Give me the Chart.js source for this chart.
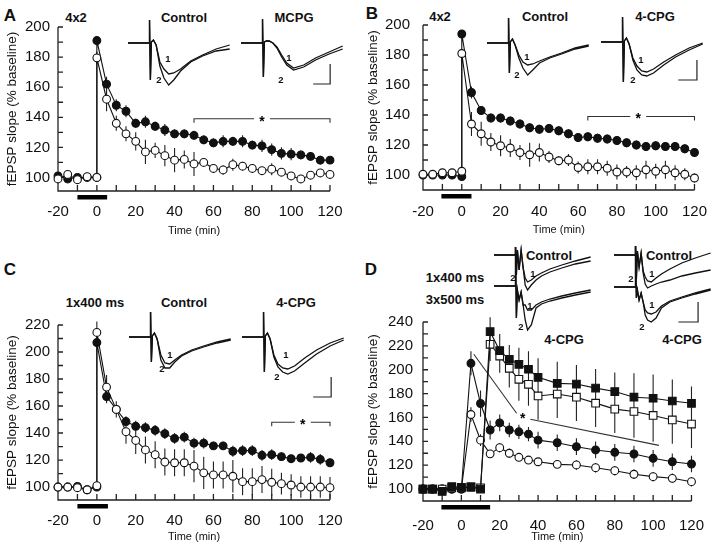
<!DOCTYPE html>
<html>
<head>
<meta charset="utf-8">
<script src="https://cdn.jsdelivr.net/npm/chart.js@4.4.1/dist/chart.umd.min.js"></script>
<style>
    body { margin: 0; width: 720px; height: 550px; background: #fff; position: relative; overflow: hidden;
           font-family: "Liberation Sans", Arial, sans-serif; }
    canvas { position: absolute; }
    .t { position: absolute; transform: translate(-50%, -50%); font-weight: bold; color: #111;
         white-space: nowrap; line-height: 1; }
    .p { font-size: 17px; }
    .h { font-size: 13px; }
    .n { font-size: 9.5px; }
</style>
</head>
<body>

<div class="t p" style="left:10px;top:15px">A</div>
<div class="t p" style="left:372px;top:13px">B</div>
<div class="t p" style="left:10px;top:269px">C</div>
<div class="t p" style="left:371px;top:269px">D</div>

<div class="t h" style="left:76px;top:17px">4x2</div>
<div class="t h" style="left:184px;top:17px">Control</div>
<div class="t h" style="left:294px;top:17px">MCPG</div>
<div class="t h" style="left:440px;top:16px">4x2</div>
<div class="t h" style="left:545px;top:16px">Control</div>
<div class="t h" style="left:655px;top:16px">4-CPG</div>
<div class="t h" style="left:95px;top:302px">1x400 ms</div>
<div class="t h" style="left:184px;top:302px">Control</div>
<div class="t h" style="left:296px;top:302px">4-CPG</div>
<div class="t h" style="left:455px;top:277px">1x400 ms</div>
<div class="t h" style="left:455px;top:299px">3x500 ms</div>
<div class="t h" style="left:549px;top:255px">Control</div>
<div class="t h" style="left:669px;top:255px">Control</div>
<div class="t h" style="left:564px;top:339px">4-CPG</div>
<div class="t h" style="left:682px;top:339px">4-CPG</div>

<script>
// ---------- main series ----------
const X_LABELS = [-20, 0, 20, 40, 60, 80, 100, 120];
const Y_LABELS_AB = [100, 120, 140, 160, 180, 200];
const Y_LABELS_C = [100, 120, 140, 160, 180, 200, 220];
const Y_LABELS_D = [100, 120, 140, 160, 180, 200, 220, 240];

// time (min); 0 appears twice: before and right after the tetanus
const timeABC = [-20, -15, -10, -5, 0, 0, 5, 10, 15, 20, 25, 30, 35, 40, 45, 50, 55, 60, 65, 70, 75, 80, 85, 90, 95, 100, 105, 110, 115, 120];

const aFilled = [101, 99, 100, 100, 100, 191, 162, 148, 144, 136, 137, 134, 131.5, 129, 129, 128, 125, 123, 124, 124, 124, 121.5, 121, 118.5, 116, 115.5, 115, 114, 111.5, 111.5];
const aFilledErr = [1, 1, 1, 1, 1, 2, 5, 4, 4, 3, 4, 3, 4, 3, 3, 3, 3, 3, 4, 3, 4, 3, 4, 4, 4, 4, 3, 3, 3, 2];
const aOpen = [99, 102, 98.5, 100.5, 100, 179.5, 152, 136, 129, 124, 117, 118, 114.5, 111.5, 112, 109, 110, 106, 105, 108.5, 107.5, 106, 104.5, 105.5, 103.5, 101, 99, 101.5, 103, 102];
const aOpenErr = [1, 2, 1, 1, 1, 4, 8, 5, 5, 6, 8, 5, 7, 8, 6, 8, 3, 3, 3, 4, 3, 2, 2, 4, 2, 2, 2, 2, 2, 2];

const bFilled = [100, 100, 100, 100, 99, 194, 155, 143, 138, 138, 136, 134, 131.5, 130.5, 131, 129.5, 127.5, 125, 125.5, 124.5, 124, 123, 121.5, 120, 119, 119.5, 119, 119, 117.5, 115];
const bFilledErr = [1, 1, 1, 1, 1, 2, 4, 3, 3, 3, 3, 3, 3, 3, 3, 3, 3, 3, 3, 3, 3, 3, 3, 3, 3, 3, 3, 3, 3, 3];
const bOpen = [100.5, 100.5, 101.5, 101.5, 102.5, 181, 134, 127.5, 122, 119.5, 118, 115, 113.5, 115, 112, 109.5, 110, 105, 105.5, 105.5, 104.5, 102, 102, 101.5, 103.5, 102.5, 103.5, 101.5, 100.5, 98];
const bOpenErr = [1, 1, 1, 1, 1, 3, 8, 8, 6, 7, 6, 5, 8, 6, 4, 3, 4, 4, 5, 5, 5, 5, 4, 5, 6, 5, 6, 5, 4, 3];

const cFilled = [100, 100, 100.5, 98, 100, 207, 167, 157.5, 148.5, 145, 144, 142, 139.5, 136, 137, 132.5, 132.5, 130.5, 130.5, 126.5, 127, 127, 123.5, 124, 122.5, 121, 121.5, 122, 120.5, 118];
const cFilledErr = [1, 1, 1, 1, 1, 3, 5, 4, 4, 4, 4, 4, 4, 4, 4, 4, 4, 3, 3, 4, 4, 4, 4, 4, 3, 3, 3, 4, 4, 3];
const cOpen = [100, 100, 99.5, 98, 101, 214.5, 174, 157.5, 141, 134.5, 127.5, 124, 118.5, 118, 118, 115.5, 110.5, 109, 109, 108, 104, 104, 105.5, 103.5, 102.5, 101.5, 100, 100, 100, 99.5];
const cOpenErr = [1, 1, 1, 1, 1, 8, 9, 6, 9, 10, 10, 10, 10, 10, 10, 12, 12, 10, 10, 12, 10, 10, 10, 10, 8, 8, 8, 8, 8, 8];

const timeD = [-20, -15, -10, -5, 0, 5, 10, 15, 20, 25, 30, 35, 40, 50, 60, 70, 80, 90, 100, 110, 120];
const dCircFilled = [100, 100, 100, 100, 100, 205.4, 171.7, 149.5, 155.5, 149.5, 148, 146, 141, 138.8, 135.5, 132.8, 130.8, 129.4, 125.8, 122.9, 121];
const dCircFilledErr = [1, 1, 1, 1, 1, 10, 11, 8, 7, 6, 6, 6, 7, 7, 7, 7, 7, 7, 7, 7, 7];
const dCircOpen = [100, 100, 100, 100, 100, 162.5, 141, 129.5, 134.7, 130, 126.6, 124.3, 122.9, 120.7, 120.2, 117.9, 115.4, 112.4, 110.4, 109, 106.2];
const dCircOpenErr = [1, 1, 1, 1, 1, 6, 5, 3, 4, 4, 3, 3, 3, 3, 4, 4, 4, 4, 4, 4, 4];
const dSqFilled = [100, 100, 98, 102, 101.5, 101.5, 100, 231.9, 216, 208.7, 204.5, 200.4, 193.6, 188.6, 188, 184.6, 181.7, 177, 176.1, 173.8, 171.9];
const dSqFilledErr = [2, 2, 2, 2, 2, 2, 2, 12, 14, 12, 14, 15, 16, 18, 16, 16, 16, 20, 20, 18, 14];
const dSqOpen = [100, 100, 100, 101, 101, 102, 101, 221.3, 211.5, 201.2, 192, 187.8, 178, 179.6, 177, 172, 167, 165, 161.7, 157.9, 154.5];
const dSqOpenErr = [2, 2, 2, 2, 2, 2, 2, 14, 14, 16, 18, 18, 20, 20, 20, 20, 20, 22, 22, 20, 20];

// stimulation bars and significance marks (min / % baseline)
const stimA = [-10, 5.3];
const stimB = [-10.5, 5];
const stimC = [-10, 5.7];
const stimD = [-10.4, 15];
const sigA = { from: 50, to: 120, y: 139, star: 85 };
const sigB = { from: 65, to: 120, y: 139, star: 91 };
const sigC = { from: 90, to: 120, y: 148, star: 106 };
const sigLinesD = [[6.5, 213, 28.8, 163.5], [36, 158.5, 103, 136.6]];
const sigStarD = [32, 161];

// ---------- inset traces (ms, mV) ----------
const traceT = [0, 6.2, 6.35, 6.6, 6.9, 7.5, 8.3, 9.4, 10.6, 12.0, 13.5, 15.5, 18.5, 22, 26, 30];
const aCtl1 = [0, 0, 1.15, -1.85, 0.05, 0.15, -0.1, -0.95, -1.3, -1.55, -1.5, -1.3, -0.9, -0.6, -0.3, -0.1];
const aCtl2 = [0, 0, 1.15, -1.85, 0.05, 0.15, -0.1, -1.15, -1.75, -2.1, -1.85, -1.4, -0.95, -0.65, -0.4, -0.3];
const aMc1 = [0, 0, 1.2, -1.7, 0.05, 0.1, 0.1, 0.0, -0.2, -0.6, -1.0, -1.25, -1.1, -0.75, -0.45, -0.15];
const aMc2 = [0, 0, 1.2, -1.7, 0.05, 0.1, 0.1, 0.0, -0.25, -0.7, -1.1, -1.35, -1.2, -0.85, -0.55, -0.3];
const bCtl1 = [0, 0, 1.4, -1.5, 0.05, 0.2, -0.1, -0.6, -0.95, -1.1, -1.05, -0.9, -0.7, -0.5, -0.25, -0.1];
const bCtl2 = [0, 0, 1.4, -1.5, 0.05, 0.2, -0.1, -0.75, -1.25, -1.6, -1.35, -1.0, -0.75, -0.55, -0.3, -0.15];
const bCpg1 = [0, 0, 1.35, -2.0, 0.05, 0.2, -0.1, -0.8, -1.2, -1.45, -1.5, -1.35, -1.0, -0.65, -0.3, -0.05];
const bCpg2 = [0, 0, 1.35, -2.0, 0.05, 0.2, -0.1, -0.9, -1.4, -1.65, -1.7, -1.55, -1.15, -0.75, -0.4, -0.1];
const cCtl1 = [0, 0, 1.45, -1.25, 0.05, 0.2, -0.1, -0.9, -1.3, -1.35, -1.15, -0.9, -0.65, -0.45, -0.25, -0.1];
const cCtl2 = [0, 0, 1.45, -1.25, 0.05, 0.2, -0.1, -1.15, -1.55, -1.55, -1.25, -0.95, -0.7, -0.5, -0.3, -0.15];
const cCpg1 = [0, 0, 1.35, -1.75, 0.05, 0.2, -0.1, -0.9, -1.35, -1.55, -1.6, -1.45, -1.05, -0.65, -0.3, -0.05];
const cCpg2 = [0, 0, 1.35, -1.75, 0.05, 0.2, -0.1, -1.0, -1.5, -1.75, -1.85, -1.7, -1.3, -0.85, -0.45, -0.15];

const traceTD = [0, 6.2, 6.35, 6.6, 6.9, 7.4, 8.0, 8.6, 9.2, 9.9, 11.0, 12.4, 14.0, 16.5, 20, 24, 28.5];
const dLTop1 = [0, 0, 0.4, -1.0, 0.25, -0.75, 0.25, -0.65, -1.15, -1.35, -1.25, -1.05, -0.9, -0.7, -0.5, -0.3, -0.1];
const dLTop2 = [0, 0, 0.4, -1.0, 0.25, -0.75, 0.25, -0.65, -1.5, -1.75, -1.5, -1.25, -1.05, -0.85, -0.65, -0.45, -0.3];
const dLBot1 = [-1.55, -1.55, 0.4, -3.15, -1.75, -2.25, -1.85, -2.5, -2.5, -2.75, -2.75, -2.5, -2.35, -2.2, -2.05, -1.9, -1.75];
const dLBot2 = [-1.55, -1.55, 0.4, -3.15, -1.75, -2.25, -1.85, -2.5, -3.25, -3.75, -3.5, -2.65, -2.45, -2.3, -2.15, -2.0, -1.85];
const dRTop1 = [0, 0, 0.45, -1.2, 0.2, -0.6, 0.1, -0.8, -1.1, -1.3, -1.35, -1.15, -0.95, -0.7, -0.4, -0.15, 0.1];
const dRTop2 = [0, 0, 0.45, -1.2, 0.2, -0.6, 0.1, -0.9, -1.45, -1.65, -1.55, -1.45, -1.35, -1.25, -1.05, -0.9, -0.75];
const dRBot1 = [-1.6, -1.6, 0.45, -2.15, -1.75, -2.25, -1.9, -2.35, -2.75, -2.9, -2.95, -2.85, -2.55, -2.3, -2.1, -1.9, -1.7];
const dRBot2 = [-1.6, -1.6, 0.45, -2.15, -1.75, -2.25, -1.9, -2.35, -3.0, -3.25, -3.35, -3.15, -2.65, -2.35, -2.15, -1.95, -1.75];

// scale bars: corner at (x ms, y mV), w ms wide, h mV tall
const sbA = { x: 26.3, y: -2.05, w: 5, h: 1 };
const sbB = { x: 28.3, y: -1.9, w: 5.5, h: 1 };
const sbC = { x: 26.3, y: -3.0, w: 5.3, h: 1 };
const sbD = { x: 24.8, y: -3.35, w: 5.8, h: 1 };

Chart.defaults.font.family = '"Liberation Sans", Arial, sans-serif';
Chart.defaults.color = '#111';

// --- axes, error bars, stimulus bar, significance marks ---
const deco = {
    id: 'deco',
    beforeDatasetsDraw(chart, args, o) {
        const { ctx, chartArea: a, scales: { x, y } } = chart;
        const ys = o.yLabels;
        ctx.save();
        ctx.strokeStyle = '#222';
        ctx.lineWidth = 1.3;
        ctx.beginPath();
        ctx.moveTo(a.left, y.getPixelForValue(ys[ys.length - 1]));
        ctx.lineTo(a.left, a.bottom);
        ctx.lineTo(a.right, a.bottom);
        const yStep = (ys[1] - ys[0]) / 2;
        for (let v = ys[0]; v <= ys[ys.length - 1]; v += yStep) {
            const py = y.getPixelForValue(v);
            ctx.moveTo(a.left, py);
            ctx.lineTo(a.left + 5, py);
        }
        const xStep = (X_LABELS[1] - X_LABELS[0]) / 2;
        for (let v = X_LABELS[0] + xStep; v <= X_LABELS[X_LABELS.length - 1]; v += xStep) {
            const px = x.getPixelForValue(v);
            ctx.moveTo(px, a.bottom);
            ctx.lineTo(px, a.bottom - 6);
        }
        ctx.stroke();

        // error bars
        ctx.lineWidth = 1.1;
        ctx.strokeStyle = '#222';
        ctx.beginPath();
        chart.data.datasets.forEach((ds, i) => {
            if (!ds.err) return;
            chart.getDatasetMeta(i).data.forEach((pt, j) => {
                const d = ds.data[j];
                ctx.moveTo(pt.x, y.getPixelForValue(d.y + ds.err[j]));
                ctx.lineTo(pt.x, y.getPixelForValue(d.y - ds.err[j]));
            });
        });
        ctx.stroke();

        // stimulation bar
        ctx.fillStyle = '#000';
        const s0 = x.getPixelForValue(o.stim[0]);
        ctx.fillRect(s0, a.bottom + 4, x.getPixelForValue(o.stim[1]) - s0, 4.5);

        // significance
        ctx.strokeStyle = '#333';
        ctx.lineWidth = 1.1;
        ctx.font = 'bold 14px "Liberation Sans", Arial';
        ctx.textAlign = 'center';
        ctx.textBaseline = 'middle';
        if (o.sig) {
            const s = o.sig;
            const py = y.getPixelForValue(s.y);
            const x0 = x.getPixelForValue(s.from), x1 = x.getPixelForValue(s.to), xs = x.getPixelForValue(s.star);
            ctx.beginPath();
            ctx.moveTo(x0, py + 4); ctx.lineTo(x0, py); ctx.lineTo(xs - 8, py);
            ctx.moveTo(xs + 8, py); ctx.lineTo(x1, py); ctx.lineTo(x1, py + 4);
            ctx.stroke();
            ctx.fillText('*', xs, py + 3);
        }
        if (o.lines) {
            ctx.beginPath();
            o.lines.forEach(l => {
                ctx.moveTo(x.getPixelForValue(l[0]), y.getPixelForValue(l[1]));
                ctx.lineTo(x.getPixelForValue(l[2]), y.getPixelForValue(l[3]));
            });
            ctx.stroke();
            ctx.fillText('*', x.getPixelForValue(o.star[0]), y.getPixelForValue(o.star[1]) + 3);
        }
        ctx.restore();
    }
};

function addCanvas(left, top, w, h) {
    const c = document.createElement('canvas');
    c.width = w;
    c.height = h;
    c.style.left = left + 'px';
    c.style.top = top + 'px';
    document.body.appendChild(c);
    return c;
}

function series(t, vals, err, filled, square) {
    return {
        data: t.map((v, i) => ({ x: v, y: vals[i] })),
        err: err,
        borderColor: '#111',
        borderWidth: 1.1,
        pointStyle: square ? 'rect' : 'circle',
        pointRadius: square ? 5.4 : 3.9,
        pointBackgroundColor: filled ? '#111' : '#fff',
        pointBorderColor: '#111',
        pointBorderWidth: 1.1,
        tension: 0,
        clip: false
    };
}

function makePanel(p) {
    const canvas = addCanvas(p.left, p.top, 360, 275);
    new Chart(canvas, {
        type: 'line',
        data: { datasets: p.datasets },
        options: {
            responsive: false,
            animation: false,
            events: [],
            layout: { padding: p.pad },
            plugins: {
                legend: { display: false },
                tooltip: { enabled: false },
                deco: { yLabels: p.yLabels, stim: p.stim, sig: p.sig, lines: p.lines, star: p.star }
            },
            scales: {
                x: {
                    type: 'linear', min: -20, max: 120,
                    afterFit: s => { s.height = p.xH; },
                    afterBuildTicks: s => { s.ticks = X_LABELS.map(v => ({ value: v })); },
                    ticks: { font: { size: 15 }, padding: p.xPad, maxRotation: 0, autoSkip: false },
                    grid: { display: false, drawTicks: false },
                    border: { display: false },
                    title: { display: true, text: 'Time (min)', font: { size: 11 }, padding: 0 }
                },
                y: {
                    min: p.yMin, max: p.yMax,
                    afterFit: s => { s.width = p.yW; },
                    afterBuildTicks: s => { s.ticks = p.yLabels.map(v => ({ value: v })); },
                    ticks: { font: { size: 15 }, padding: p.yPad },
                    grid: { display: false, drawTicks: false },
                    border: { display: false },
                    title: { display: true, text: 'fEPSP slope (% baseline)', font: { size: 13.5 },
                             padding: { top: p.yTitlePad, bottom: 0 } }
                }
            }
        },
        plugins: [deco]
    });
}

const PX_PER_MS = 3.39, PX_PER_MV = 20;

function makeInset(left, baseline, tall, t, traces, sb) {
    const w = 110, h = tall ? 100 : 90, above = tall ? 12 : 25;
    const canvas = addCanvas(left, baseline - above, w, h);
    const datasets = traces.map(tr => ({
        data: t.map((v, i) => ({ x: v, y: tr[i] })),
        borderColor: '#111', borderWidth: 1.3, pointRadius: 0, tension: 0, clip: false
    }));
    if (sb) {
        datasets.push({
            data: [{ x: sb.x - sb.w, y: sb.y }, { x: sb.x, y: sb.y }, { x: sb.x, y: sb.y + sb.h }],
            borderColor: '#222', borderWidth: 1.2, pointRadius: 0, tension: 0, clip: false
        });
    }
    new Chart(canvas, {
        type: 'line',
        data: { datasets },
        options: {
            responsive: false, animation: false, events: [],
            layout: { padding: 0 },
            plugins: { legend: { display: false }, tooltip: { enabled: false } },
            scales: {
                x: { type: 'linear', display: false, min: 0, max: w / PX_PER_MS },
                y: { display: false, min: (above - h) / PX_PER_MV, max: above / PX_PER_MV }
            }
        }
    });
}

// panels
makePanel({
    left: 0, top: 0, yMin: 91, yMax: 200, yLabels: Y_LABELS_AB,
    pad: { left: 0, right: 30, top: 27, bottom: 37 }, yW: 58, xH: 47, xPad: 12, yPad: 8, yTitlePad: 4,
    stim: stimA, sig: sigA,
    datasets: [series(timeABC, aOpen, aOpenErr, false), series(timeABC, aFilled, aFilledErr, true)]
});
makePanel({
    left: 360, top: 0, yMin: 90, yMax: 200, yLabels: Y_LABELS_AB,
    pad: { left: 0, right: 23, top: 25, bottom: 38 }, yW: 63, xH: 47, xPad: 13, yPad: 13, yTitlePad: 5,
    stim: stimB, sig: sigB,
    datasets: [series(timeABC, bOpen, bOpenErr, false), series(timeABC, bFilled, bFilledErr, true)]
});
makePanel({
    left: 0, top: 275, yMin: 90.4, yMax: 220, yLabels: Y_LABELS_C,
    pad: { left: 0, right: 30, top: 50, bottom: 6 }, yW: 58, xH: 44, xPad: 12, yPad: 8, yTitlePad: 4,
    stim: stimC, sig: sigC,
    datasets: [series(timeABC, cOpen, cOpenErr, false), series(timeABC, cFilled, cFilledErr, true)]
});
makePanel({
    left: 360, top: 275, yMin: 90, yMax: 240, yLabels: Y_LABELS_D,
    pad: { left: 0, right: 23, top: 47, bottom: 6 }, yW: 63, xH: 43, xPad: 16, yPad: 10, yTitlePad: 5,
    stim: stimD, lines: sigLinesD, star: sigStarD,
    datasets: [
        series(timeD, dSqFilled, dSqFilledErr, true, true),
        series(timeD, dSqOpen, dSqOpenErr, false, true),
        series(timeD, dCircFilled, dCircFilledErr, true),
        series(timeD, dCircOpen, dCircOpenErr, false)
    ]
});

// insets
makeInset(128, 43, false, traceT, [aCtl1, aCtl2]);
makeInset(241, 43, false, traceT, [aMc1, aMc2], sbA);
makeInset(487, 43, false, traceT, [bCtl1, bCtl2]);
makeInset(601, 42, false, traceT, [bCpg1, bCpg2], sbB);
makeInset(129, 337, false, traceT, [cCtl1, cCtl2]);
makeInset(242, 337, false, traceT, [cCpg1, cCpg2], sbC);
makeInset(494, 255, true, traceTD, [dLTop1, dLTop2, dLBot1, dLBot2]);
makeInset(614, 255, true, traceTD, [dRTop1, dRTop2, dRBot1, dRBot2], sbD);

// trace numbers
const traceNums = [
    ['1', 168, 59], ['2', 159, 80], ['1', 289, 58], ['2', 281, 80],
    ['1', 527, 57], ['2', 517, 75], ['1', 641, 60], ['2', 633, 80],
    ['1', 170, 355], ['2', 162, 369], ['1', 286, 355], ['2', 277, 377],
    ['2', 513, 278], ['1', 533, 274], ['1', 530, 306], ['2', 521, 327],
    ['2', 631, 279], ['1', 652, 274], ['1', 652, 305], ['2', 642, 327]
];
traceNums.forEach(([txt, x, y]) => {
    const d = document.createElement('div');
    d.className = 't n';
    d.style.left = x + 'px';
    d.style.top = y + 'px';
    d.textContent = txt;
    document.body.appendChild(d);
});
</script>
</body>
</html>
